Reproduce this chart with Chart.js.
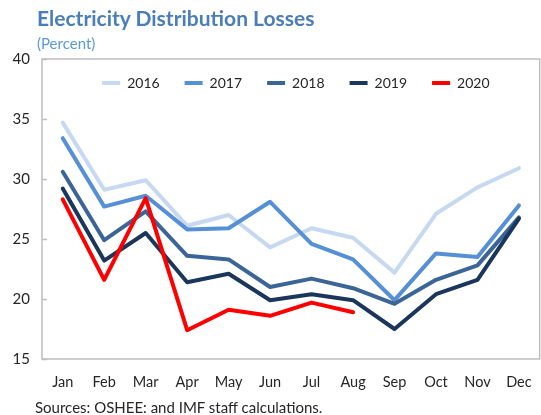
<!DOCTYPE html>
<html>
<head>
<meta charset="utf-8">
<script src="https://cdn.jsdelivr.net/npm/chart.js@4.4.1/dist/chart.umd.min.js"></script>
<style>
  html, body { margin: 0; padding: 0; background: #fff; overflow: hidden; }
  #wrap { position: relative; width: 541px; height: 415px; overflow: hidden; font-family: Lato, "Open Sans", sans-serif; }
  #chart { position: absolute; left: 0; top: 0; }
  .title { position: absolute; left: 37px; top: 5px; font-size: 21px; font-weight: bold; color: #4a7ebb; white-space: nowrap; }
  .subtitle { position: absolute; left: 37px; top: 34px; font-size: 15px; color: #5b9bd5; white-space: nowrap; }
  .source { position: absolute; left: 35px; top: 398px; font-size: 15px; color: #262626; white-space: nowrap; }
</style>
</head>
<body>
<div id="wrap">
  <canvas id="chart" width="547" height="415"></canvas>
  <div class="title">Electricity Distribution Losses</div>
  <div class="subtitle">(Percent)</div>
  <div class="source">Sources: OSHEE: and IMF staff calculations.</div>
</div>
<script>
// Monthly electricity distribution losses, percent
const months = ['Jan', 'Feb', 'Mar', 'Apr', 'May', 'Jun', 'Jul', 'Aug', 'Sep', 'Oct', 'Nov', 'Dec'];
const years = ['2016', '2017', '2018', '2019', '2020'];
const losses2016 = [34.7, 29.1, 29.9, 26.1, 27.0, 24.3, 25.9, 25.1, 22.2, 27.1, 29.3, 30.9];
const losses2017 = [33.4, 27.7, 28.6, 25.8, 25.9, 28.1, 24.6, 23.3, 19.9, 23.8, 23.5, 27.8];
const losses2018 = [30.6, 24.9, 27.3, 23.6, 23.3, 21.0, 21.7, 20.9, 19.6, 21.6, 22.8, 26.8];
const losses2019 = [29.2, 23.2, 25.5, 21.4, 22.1, 19.9, 20.4, 19.9, 17.5, 20.4, 21.6, 26.7];
const losses2020 = [28.3, 21.6, 28.4, 17.4, 19.1, 18.6, 19.7, 18.9, null, null, null, null];
const yTicks = [15, 20, 25, 30, 35, 40];

const seriesValues = [losses2016, losses2017, losses2018, losses2019, losses2020];
const seriesColors = ['#c6d9f0', '#5590d6', '#3a6596', '#1a365b', '#ff0000'];

const FONT = 'Lato, "Open Sans", sans-serif';
const TEXT = '#262626';

// Plot frame with short inward tick marks on the value axis
const framePlugin = {
  id: 'frame',
  // the legend reserves only a thin strip above the plot and is drawn
  // over its top margin, so widen its clip box after layout
  afterLayout(chart) {
    const lg = chart.legend;
    if (lg) {
      lg.height = 50;
      lg.bottom = lg.top + 50;
      lg.left += 5;
      lg.right += 5;
    }
  },
  beforeDatasetsDraw(chart) {
    const { ctx, chartArea: a, scales } = chart;
    ctx.save();
    ctx.strokeStyle = '#bfbfbf';
    ctx.lineWidth = 1.5;
    ctx.strokeRect(a.left, a.top, a.right - a.left, a.bottom - a.top);
    ctx.beginPath();
    yTicks.forEach(v => {
      const y = Math.round(scales.y.getPixelForValue(v)) + 0.5;
      ctx.moveTo(a.left, y);
      ctx.lineTo(a.left + 5, y);
    });
    ctx.stroke();
    ctx.restore();
  }
};

new Chart(document.getElementById('chart'), {
  type: 'line',
  data: {
    labels: months,
    datasets: years.map((yr, i) => ({
      label: yr,
      data: seriesValues[i],
      borderColor: seriesColors[i],
      backgroundColor: seriesColors[i],
      borderWidth: 4,
      borderJoinStyle: 'round',
      borderCapStyle: 'round',
      pointRadius: 0,
      tension: 0,
      fill: false,
      spanGaps: false,
      order: years.length - i
    }))
  },
  options: {
    responsive: false,
    animation: false,
    devicePixelRatio: 1,
    layout: { padding: { top: 51, left: 0, right: 0, bottom: 16 } },
    plugins: {
      legend: {
        position: 'top',
        align: 'center',
        fullSize: false,
        maxHeight: 8,
        labels: {
          usePointStyle: true,
          pointStyle: 'line',
          pointStyleWidth: 18,
          padding: 25,
          color: TEXT,
          font: { family: FONT, size: 14 },
          sort: (a, b) => a.datasetIndex - b.datasetIndex
        }
      },
      tooltip: { enabled: false }
    },
    scales: {
      x: {
        type: 'category',
        offset: true,
        grid: { display: false, drawTicks: false },
        border: { display: false },
        ticks: { color: TEXT, font: { family: FONT, size: 14.5 }, padding: 15, maxRotation: 0, autoSkip: false },
        afterFit(s) { s.height = 40; }
      },
      y: {
        min: 15,
        max: 40,
        grid: { display: false, drawTicks: false },
        border: { display: false },
        ticks: { stepSize: 5, color: TEXT, font: { family: FONT, size: 15 }, padding: 12 },
        afterFit(s) { s.width = 42; }
      }
    }
  },
  plugins: [framePlugin]
});
</script>
</body>
</html>
